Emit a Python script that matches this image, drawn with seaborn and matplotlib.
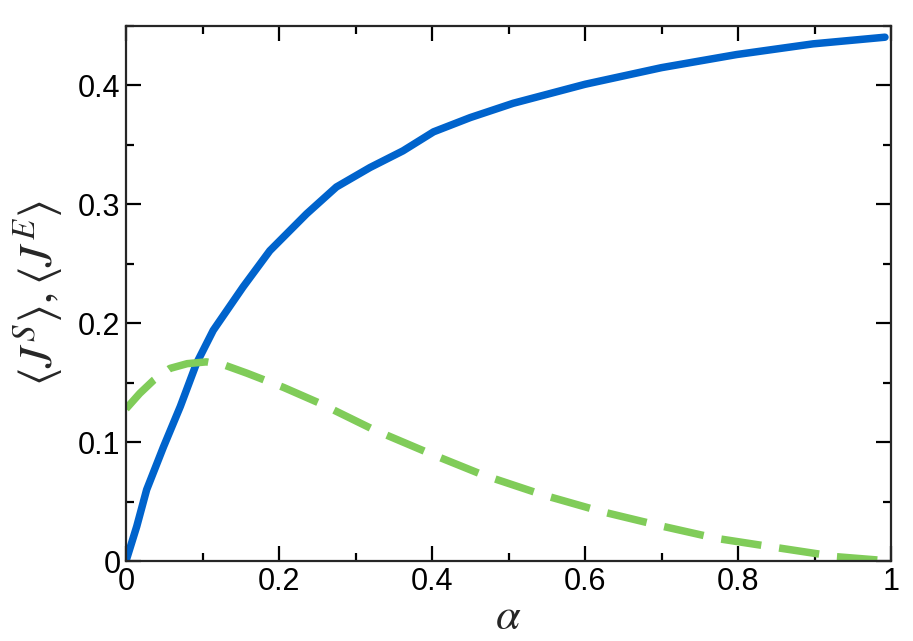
import numpy as np
import pandas as pd
import matplotlib
matplotlib.use("Agg")
import matplotlib.pyplot as plt
import seaborn as sns
from matplotlib.ticker import MultipleLocator

# blue solid curve  <J^S>
alpha_s = [0.0, 0.014, 0.027, 0.049, 0.071, 0.092, 0.114, 0.153, 0.188,
           0.236, 0.275, 0.319, 0.362, 0.402, 0.450, 0.506, 0.600, 0.700,
           0.798, 0.898, 0.992]
js = [0.0, 0.029, 0.060, 0.096, 0.130, 0.166, 0.194, 0.2305, 0.261,
      0.292, 0.3146, 0.331, 0.345, 0.361, 0.373, 0.385, 0.401, 0.415,
      0.426, 0.435, 0.4406]

# green dashed curve  <J^E>
alpha_e = [0.0, 0.018, 0.036, 0.0575, 0.080, 0.105, 0.130, 0.158, 0.206,
           0.254, 0.323, 0.397, 0.467, 0.5455, 0.622, 0.698, 0.772, 0.851,
           0.929, 0.999]
je = [0.128, 0.141, 0.152, 0.162, 0.166, 0.1675, 0.1645, 0.158, 0.146,
      0.1325, 0.1107, 0.0905, 0.0723, 0.0555, 0.0415, 0.0297, 0.0190,
      0.0112, 0.0036, 0.0]

BLUE = "#0063cc"
GREEN = "#80cc59"

sns.set_style("ticks")
plt.rcParams["font.family"] = ["Liberation Sans", "DejaVu Sans"]
plt.rcParams["mathtext.fontset"] = "stix"

fig = plt.figure(figsize=(9.13, 6.41), dpi=100)
ax = fig.add_axes([0.138, 0.1248, 0.838, 0.8346])

df_s = pd.DataFrame({"alpha": alpha_s, "J": js})
df_e = pd.DataFrame({"alpha": alpha_e, "J": je})

sns.lineplot(data=df_s, x="alpha", y="J", ax=ax, color=BLUE, lw=5.4,
             estimator=None, sort=False)
sns.lineplot(data=df_e, x="alpha", y="J", ax=ax, color=GREEN, lw=5.4,
             estimator=None, sort=False)
ax.lines[0].set_solid_joinstyle("round")
ax.lines[1].set_dashes([5.4, 2.4])
ax.lines[1].set_dash_capstyle("butt")
ax.lines[1].set_dash_joinstyle("round")

ax.set_xlim(0, 1)
ax.set_ylim(0, 0.45)
ax.xaxis.set_major_locator(MultipleLocator(0.2))
ax.xaxis.set_minor_locator(MultipleLocator(0.1))
ax.yaxis.set_major_locator(MultipleLocator(0.1))
ax.yaxis.set_minor_locator(MultipleLocator(0.05))
ax.xaxis.set_major_formatter(plt.FuncFormatter(lambda v, p: f"{v:g}"))
ax.yaxis.set_major_formatter(plt.FuncFormatter(lambda v, p: f"{v:g}"))

for s in ax.spines.values():
    s.set_visible(True)
    s.set_linewidth(1.6)
ax.tick_params(which="both", direction="in", top=True, right=True,
               width=1.6, labelsize=22, colors="black")
ax.tick_params(which="major", length=11, pad=4)
ax.tick_params(which="minor", length=6)

ax.set_xlabel(r"$\alpha$", fontsize=32, labelpad=0)
ax.set_ylabel(r"$\langle J^S\rangle, \langle J^E\rangle$", fontsize=34, labelpad=9)

fig.savefig("out.png", dpi=100)
